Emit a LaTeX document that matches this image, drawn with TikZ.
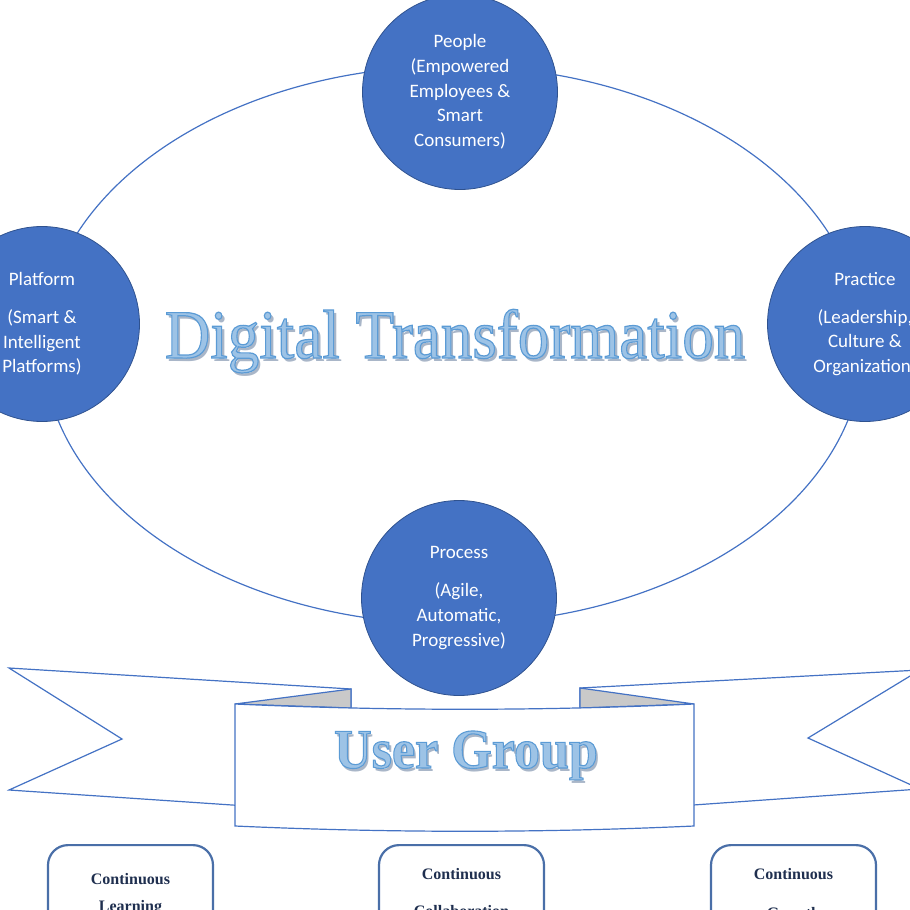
\documentclass[tikz,border=0pt]{standalone}
\usepackage{fontspec}
\usepackage{graphicx}
\newfontfamily\calibrifont{Carlito}
\newfontfamily\headfont{Liberation Serif}

\definecolor{pillarblue}{HTML}{4472C4}
\definecolor{pillaredge}{HTML}{2F528F}
\definecolor{titlefill}{HTML}{9DC3E6}
\definecolor{shadowtone}{HTML}{A9B6C8}
\definecolor{foldgray}{HTML}{C9C9C9}
\definecolor{boxedge}{HTML}{4A6FA8}
\definecolor{navytext}{HTML}{1F2F4F}

% fill + stroke the glyphs (render mode 2)
\newcommand{\outlinetext}[1]{\special{pdf:literal direct 2 Tr 1.1 w 0.357 0.608 0.835 RG}#1\special{pdf:literal direct 0 Tr}}
% soft drop shadow behind outlined letters
\newcommand{\shadowtitle}[1]{\rlap{\hspace*{3pt}\raisebox{-3pt}{\textcolor{shadowtone}{#1}}}\outlinetext{#1}}

\begin{document}
\begin{tikzpicture}[x=1pt, y=-1pt,
    pillar/.style={circle, fill=pillarblue, draw=pillaredge, line width=0.8pt, minimum size=195pt, inner sep=0pt, text=white, align=center, font=\calibrifont\fontsize{19}{24.7}\selectfont},
    stagebox/.style={draw=boxedge, line width=2.2pt, rounded corners=20pt, fill=white, minimum width=165pt, minimum height=130pt, anchor=north},
    stagetext/.style={anchor=north, inner sep=0pt, align=center, text=navytext, font=\headfont\bfseries\fontsize{16}{19}\selectfont},
    banner/.style={draw=pillarblue, line width=1.2pt, fill=white, line join=miter}]

    \useasboundingbox (0,0) rectangle (910,910);
    \clip (0,0) rectangle (910,910);

    % Outer ellipse (the cycle linking the four pillars)
    \draw[line width=1.2pt, draw=pillarblue] (453,345) ellipse [x radius=410, y radius=279];

    % Four pillars sitting on the ellipse
    \node[pillar] (people) at (460,92) {People\\(Empowered\\Employees \&\\Smart\\Consumers)};
    \node[pillar] (platform) at (42,324) {Platform\\[13pt](Smart \&\\Intelligent\\Platforms)};
    \node[pillar] (practice) at (865,324) {Practice\\[13pt](Leadership,\\Culture \&\\Organization)};
    \node[pillar] (process) at (459,598) {Process\\[13pt](Agile,\\Automatic,\\Progressive)};

    % Centre title
    \node[anchor=base, inner sep=0pt, text=titlefill, font=\headfont\fontsize{63}{70}\selectfont] (dt) at (455,358) {\scalebox{1}[1.1]{\shadowtitle{Digital Transformation}}};

    % Banner tails (the centre panel covers their inner ends)
    \draw[banner] (351,689) -- (9,668) -- (122,739) -- (9,790) -- (351,813) -- cycle;
    \draw[banner] (580,688) -- (920,670) -- (808,738) -- (920,789) -- (580,813) -- cycle;

    % Grey folds
    \draw[banner, fill=foldgray] (235,704) -- (351,689) -- (351,708) -- cycle;
    \draw[banner, fill=foldgray] (694,704) -- (580,688) -- (580,708) -- cycle;

    % Centre panel of the banner
    \draw[banner] (235,704) .. controls (390,711) and (540,711) .. (694,704) -- (694,826) .. controls (540,833) and (390,833) .. (235,826) -- cycle;
    \node[anchor=base, inner sep=0pt, text=titlefill, font=\headfont\bfseries\fontsize{56}{62}\selectfont] (ug) at (466,768) {\scalebox{0.93}[1]{\shadowtitle{User Group}}};

    % Bottom boxes (cut off by the page edge)
    \node[stagebox] (learnbox) at (130.5,844) {};
    \node[stagebox] (collabbox) at (461.5,844) {};
    \node[stagebox] (growbox) at (793.5,844) {};

    \node[stagetext] (learn) at (130.5,873) {Continuous\\[8pt]Learning};
    \node[stagetext] (collab) at (461.5,868) {Continuous\\[18pt]Collaboration};
    \node[stagetext] (grow) at (793.5,868) {Continuous\\[20pt]Growth};
\end{tikzpicture}
\end{document}
